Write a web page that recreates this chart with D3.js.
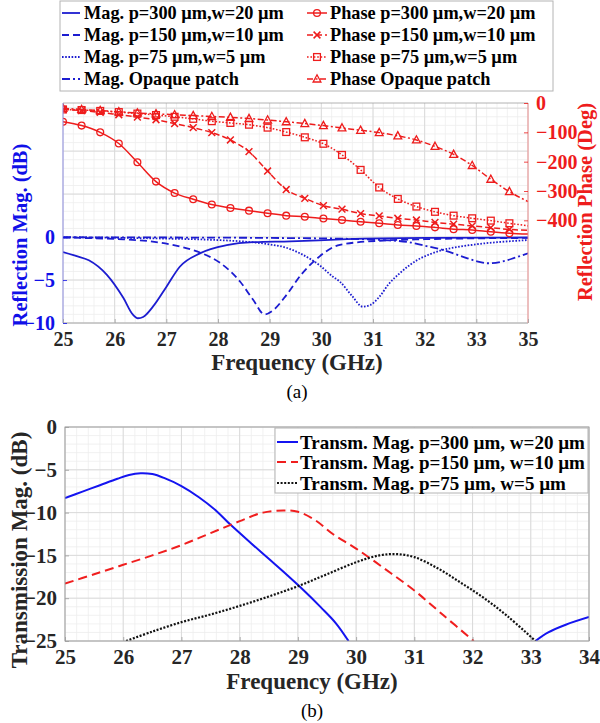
<!DOCTYPE html>
<html>
<head>
<meta charset="utf-8">
<script src="https://cdn.jsdelivr.net/npm/d3@7"></script>
<style>
  body { margin: 0; background: #fff; }
  text { font-family: "Liberation Serif", "Times New Roman", serif; }
</style>
</head>
<body>
<svg id="chart" width="600" height="723"></svg>
<script>
// ---------- (a) reflection: magnitude (left axis) ----------
const mag300Freq = [25, 25.25, 25.5, 25.85, 26.17, 26.35, 26.45, 26.55, 26.74, 27.0, 27.26, 27.65, 28.17, 28.68, 29.4, 30.5, 32, 34];
const mag300 = [-1.75, -2.2, -2.7, -4.4, -7.1, -9.0, -9.45, -9.3, -8.1, -5.8, -3.45, -1.9, -0.95, -0.6, -0.5, -0.25, -0.1, -0.05];

const mag150Freq = [25, 25.5, 26.17, 26.7, 27.26, 27.65, 28.04, 28.43, 28.68, 28.9, 29.07, 29.33, 29.62, 29.88, 30.36, 31.2, 32, 33, 34];
const mag150 = [-0.05, -0.12, -0.27, -0.5, -1.1, -1.8, -3.0, -5.2, -7.3, -9.0, -8.5, -6.7, -4.3, -2.7, -0.9, -0.4, -0.25, -0.15, -0.1];

const mag75Freq = [25, 26, 27, 28, 28.56, 29, 29.3, 29.59, 29.8, 29.97, 30.2, 30.36, 30.6, 30.8, 30.95, 31.13, 31.3, 31.52, 31.7, 31.85, 32.1, 32.35, 32.7, 33.13, 33.5, 34];
const mag75 = [-0.03, -0.08, -0.18, -0.35, -0.55, -0.85, -1.2, -1.9, -2.6, -3.3, -4.5, -5.2, -6.9, -8.1, -7.9, -6.9, -5.5, -4.2, -3.3, -2.7, -2.0, -1.5, -1.1, -0.75, -0.55, -0.35];

const magOpaqueFreq = [25, 27, 29, 30.5, 31.2, 31.7, 32.0, 32.35, 32.7, 33.0, 33.23, 33.5, 33.75, 34];
const magOpaque = [-0.02, -0.05, -0.1, -0.2, -0.35, -0.6, -1.0, -1.5, -2.2, -2.8, -3.05, -2.85, -2.4, -1.9];

// ---------- (a) reflection: phase (right axis), sampled at marker frequencies ----------
const phaseFreq = [25, 25.36, 25.72, 26.08, 26.44, 26.8, 27.16, 27.52, 27.88, 28.24, 28.6, 28.96, 29.32, 29.68, 30.04, 30.4, 30.76, 31.12, 31.48, 31.84, 32.2, 32.56, 32.92, 33.28, 33.64, 34];
const phase300 = [-64, -77, -100, -138, -202, -268, -307, -328, -346, -358, -367, -376, -384, -388, -394, -399, -405, -410, -416, -419, -424, -430, -433, -439, -444, -447];
const phase150 = [-22, -26, -32, -40, -48, -57, -70, -84, -101, -126, -166, -232, -295, -325, -350, -362, -377, -385, -393, -399, -407, -413, -419, -425, -431, -434];
const phase75 = [-22, -24, -27, -31, -36, -41, -47, -54, -62, -68, -74, -84, -99, -117, -139, -177, -228, -288, -327, -353, -371, -384, -393, -401, -410, -419];
const phaseOpaque = [-18, -22, -26, -30, -34, -37, -40, -43, -46, -49, -53, -58, -64, -70, -77, -85, -93, -101, -112, -126, -148, -175, -213, -260, -302, -336];

const ticksFreqA = [25, 26, 27, 28, 29, 30, 31, 32, 33, 34];
const tickLabelsA = ["25", "26", "27", "28", "29", "30", "31", "32", "33", "35"];
const ticksMag = [-10, -5, 0];
const ticksPhase = [-400, -300, -200, -100, 0];

const legendA = [
  "Mag. p=300 \u00b5m,w=20 \u00b5m", "Mag. p=150 \u00b5m,w=10 \u00b5m", "Mag. p=75 \u00b5m,w=5 \u00b5m", "Mag. Opaque patch",
  "Phase p=300 \u00b5m,w=20 \u00b5m", "Phase p=150 \u00b5m,w=10 \u00b5m", "Phase p=75 \u00b5m,w=5 \u00b5m", "Phase Opaque patch"
];

// ---------- (b) transmission magnitude ----------
const trans300Freq = [25, 25.3, 25.6, 25.9, 26.1, 26.3, 26.5, 26.7, 27.0, 27.3, 27.6, 27.84, 28.2, 28.5, 28.8, 29.04, 29.4, 29.65, 29.87, 30.5, 32.5, 33.08, 33.3, 33.6, 34];
const trans300 = [-8.3, -7.55, -6.8, -6.05, -5.6, -5.4, -5.5, -5.95, -6.9, -8.2, -9.8, -11.4, -13.6, -15.4, -17.2, -18.7, -21.1, -22.9, -25, null, null, -25, -24.0, -23.1, -22.2];

const trans150Freq = [25, 25.5, 26, 26.5, 27, 27.5, 28, 28.4, 28.75, 29.0, 29.3, 29.6, 30.0, 30.5, 31.0, 31.5, 32.02];
const trans150 = [-18.3, -17.2, -16.1, -15.0, -13.8, -12.4, -11.0, -10.0, -9.75, -9.9, -10.9, -12.5, -14.2, -16.6, -19.1, -22.0, -25];

const trans75Freq = [26.05, 26.5, 27, 27.5, 28, 28.5, 29, 29.5, 30, 30.4, 30.7, 31.0, 31.4, 31.8, 32.2, 32.6, 33.08];
const trans75 = [-25, -23.9, -22.8, -21.9, -20.9, -19.8, -18.6, -17.2, -15.8, -15.0, -14.85, -15.2, -16.5, -18.2, -20.0, -22.1, -25];

const ticksFreqB = [25, 26, 27, 28, 29, 30, 31, 32, 33, 34];
const ticksTrans = [-25, -20, -15, -10, -5, 0];
const legendB = [
  "Transm. Mag. p=300 \u00b5m, w=20 \u00b5m",
  "Transm. Mag. p=150 \u00b5m, w=10 \u00b5m",
  "Transm. Mag. p=75 \u00b5m, w=5 \u00b5m"
];

// ---------- styling ----------
const BLUE = "#1c1cd0";
const BLUE_TXT = "#1010e8";
const RED = "#ee1c1c";
const GRID_MAJOR = "#d8d8d8";
const GRID_MINOR = "#ededed";
const FONT = "'Liberation Serif', 'Times New Roman', serif";

const svg = d3.select("#chart");
const zip = (xs, ys) => xs.map((x, i) => ({ x, y: ys[i] }));

function drawGrid(g, xs, ys, x0, x1, y0, y1, xMinor, yMinor, xMajor, yMajor) {
  const grid = g.append("g");
  grid.selectAll(".vmin").data(xMinor).join("line")
    .attr("x1", d => xs(d)).attr("x2", d => xs(d)).attr("y1", y0).attr("y2", y1)
    .attr("stroke", GRID_MINOR).attr("stroke-width", 0.8);
  grid.selectAll(".hmin").data(yMinor).join("line")
    .attr("y1", d => ys(d)).attr("y2", d => ys(d)).attr("x1", x0).attr("x2", x1)
    .attr("stroke", GRID_MINOR).attr("stroke-width", 0.8);
  grid.selectAll(".vmaj").data(xMajor).join("line")
    .attr("x1", d => xs(d)).attr("x2", d => xs(d)).attr("y1", y0).attr("y2", y1)
    .attr("stroke", GRID_MAJOR).attr("stroke-width", 0.9);
  grid.selectAll(".hmaj").data(yMajor).join("line")
    .attr("y1", d => ys(d)).attr("y2", d => ys(d)).attr("x1", x0).attr("x2", x1)
    .attr("stroke", GRID_MAJOR).attr("stroke-width", 0.9);
}

function styleAxis(g, color, size) {
  g.select(".domain").remove();
  g.selectAll(".tick line").attr("stroke", color).attr("stroke-width", 0.8);
  g.selectAll(".tick text").attr("fill", color).attr("font-size", size)
    .attr("font-weight", "bold").attr("font-family", FONT);
}

// marker shapes for phase curves
function drawMarker(g, kind, cx, cy, color) {
  const s = 3.4;
  if (kind === "circle") {
    g.append("circle").attr("cx", cx).attr("cy", cy).attr("r", s)
      .attr("fill", "none").attr("stroke", color).attr("stroke-width", 1.3);
  } else if (kind === "cross") {
    g.append("path").attr("d", `M${cx - s},${cy - s}L${cx + s},${cy + s}M${cx - s},${cy + s}L${cx + s},${cy - s}`)
      .attr("stroke", color).attr("stroke-width", 1.5).attr("fill", "none");
  } else if (kind === "square") {
    g.append("rect").attr("x", cx - s).attr("y", cy - s).attr("width", 2 * s).attr("height", 2 * s)
      .attr("fill", "none").attr("stroke", color).attr("stroke-width", 1.3);
  } else if (kind === "triangle") {
    g.append("path").attr("d", `M${cx},${cy - s - 0.8}L${cx + s + 0.5},${cy + s - 0.4}L${cx - s - 0.5},${cy + s - 0.4}Z`)
      .attr("fill", "none").attr("stroke", color).attr("stroke-width", 1.3);
  }
}

// ================= Panel (a) =================
const A = { left: 63, right: 528, top: 103, bottom: 323 };
const xA = d3.scaleLinear().domain([25, 34]).range([A.left, A.right]);
const yMag = d3.scaleLinear().domain([-10, 15.6]).range([A.bottom, A.top]);
const yPh = d3.scaleLinear().domain([-750, 0]).range([A.bottom, A.top]);

const gA = svg.append("g");
drawGrid(gA, xA, yMag, A.left, A.right, A.top, A.bottom,
  xA.ticks(45), d3.range(-10, 16, 1), ticksFreqA, [-10, -5, 0, 5, 10, 15]);

svg.append("clipPath").attr("id", "clipA").append("rect")
  .attr("x", A.left).attr("y", A.top).attr("width", A.right - A.left).attr("height", A.bottom - A.top);

const plotA = gA.append("g").attr("clip-path", "url(#clipA)");

const magLine = d3.line().x(d => xA(d.x)).y(d => yMag(d.y)).curve(d3.curveMonotoneX);
const magSeries = [
  { f: mag300Freq, v: mag300, dash: null },
  { f: mag150Freq, v: mag150, dash: "7,4" },
  { f: mag75Freq, v: mag75, dash: "1.6,1.6" },
  { f: magOpaqueFreq, v: magOpaque, dash: "8,3,2,3" }
];
magSeries.forEach(s => {
  plotA.append("path").datum(zip(s.f, s.v)).attr("d", magLine)
    .attr("fill", "none").attr("stroke", BLUE).attr("stroke-width", 1.8)
    .attr("stroke-dasharray", s.dash);
});

const phLine = d3.line().x(d => xA(d.x)).y(d => yPh(d.y)).curve(d3.curveMonotoneX);
const phSeries = [
  { v: phase300, dash: null, mk: "circle" },
  { v: phase150, dash: "6,3", mk: "cross" },
  { v: phase75, dash: "1.6,1.8", mk: "square" },
  { v: phaseOpaque, dash: "6,2.5,2,2.5", mk: "triangle" }
];
phSeries.forEach(s => {
  const pts = zip(phaseFreq, s.v);
  plotA.append("path").datum(pts).attr("d", phLine)
    .attr("fill", "none").attr("stroke", RED).attr("stroke-width", 1.5)
    .attr("stroke-dasharray", s.dash);
  const mg = plotA.append("g");
  pts.slice(0, pts.length - 1).forEach(p => drawMarker(mg, s.mk, xA(p.x), yPh(p.y), RED));
});

// frame (a)
gA.append("line").attr("x1", A.left).attr("x2", A.right).attr("y1", A.top).attr("y2", A.top).attr("stroke", "#a0a0a0").attr("stroke-width", 0.8);
gA.append("line").attr("x1", A.left).attr("x2", A.right).attr("y1", A.bottom).attr("y2", A.bottom).attr("stroke", "#a0a0a0").attr("stroke-width", 0.8);
gA.append("line").attr("x1", A.left).attr("x2", A.left).attr("y1", A.top).attr("y2", A.bottom).attr("stroke", "#8c8ce6").attr("stroke-width", 0.9);
gA.append("line").attr("x1", A.right).attr("x2", A.right).attr("y1", A.top).attr("y2", A.bottom).attr("stroke", "#f08a8a").attr("stroke-width", 0.9);

// axes (a)
const axXA = gA.append("g").attr("transform", `translate(0,${A.bottom})`)
  .call(d3.axisBottom(xA).tickValues(ticksFreqA).tickFormat((d, i) => tickLabelsA[i]).tickSizeInner(-4).tickPadding(9));
styleAxis(axXA, "#262626", 20);
axXA.selectAll(".tick line").attr("stroke", "#a0a0a0");

const axYMag = gA.append("g").attr("transform", `translate(${A.left},0)`)
  .call(d3.axisLeft(yMag).tickValues(ticksMag).tickFormat(d3.format("d")).tickSizeInner(-4).tickPadding(8));
styleAxis(axYMag, BLUE_TXT, 20);

const axYPh = gA.append("g").attr("transform", `translate(${A.right},0)`)
  .call(d3.axisRight(yPh).tickValues(ticksPhase).tickFormat(d3.format("d")).tickSizeInner(-4).tickPadding(8));
styleAxis(axYPh, RED, 20);

gA.append("text").attr("transform", `translate(27,${235}) rotate(-90)`)
  .attr("text-anchor", "middle").attr("font-size", 20.5).attr("font-weight", "bold").attr("fill", BLUE_TXT)
  .text("Reflection Mag. (dB)");
gA.append("text").attr("transform", `translate(592,${202}) rotate(-90)`)
  .attr("text-anchor", "middle").attr("font-size", 20.5).attr("font-weight", "bold").attr("fill", RED)
  .text("Reflection Phase (Deg)");
gA.append("text").attr("x", 297).attr("y", 370)
  .attr("text-anchor", "middle").attr("font-size", 23).attr("font-weight", "bold").attr("fill", "#262626")
  .text("Frequency (GHz)");
gA.append("text").attr("x", 297).attr("y", 398)
  .attr("text-anchor", "middle").attr("font-size", 19).attr("fill", "#000")
  .text("(a)");

// legend (a)
const legA = gA.append("g");
legA.append("rect").attr("x", 60).attr("y", 1).attr("width", 493).attr("height", 90)
  .attr("fill", "#fff").attr("stroke", "#b4b4b4").attr("stroke-width", 1);
const rowY = [13, 35, 57, 79];
magSeries.forEach((s, i) => {
  legA.append("line").attr("x1", 62).attr("x2", 80).attr("y1", rowY[i]).attr("y2", rowY[i])
    .attr("stroke", BLUE).attr("stroke-width", 1.8).attr("stroke-dasharray", s.dash);
  legA.append("text").attr("x", 84).attr("y", rowY[i]).attr("dominant-baseline", "central")
    .attr("font-size", 18.3).attr("font-weight", "bold").attr("fill", "#000").text(legendA[i]);
});
phSeries.forEach((s, i) => {
  legA.append("line").attr("x1", 307).attr("x2", 327).attr("y1", rowY[i]).attr("y2", rowY[i])
    .attr("stroke", RED).attr("stroke-width", 1.5).attr("stroke-dasharray", s.dash);
  drawMarker(legA, s.mk, 317, rowY[i], RED);
  legA.append("text").attr("x", 330).attr("y", rowY[i]).attr("dominant-baseline", "central")
    .attr("font-size", 18.3).attr("font-weight", "bold").attr("fill", "#000").text(legendA[i + 4]);
});

// ================= Panel (b) =================
const B = { left: 65, right: 589, top: 427, bottom: 641 };
const xB = d3.scaleLinear().domain([25, 34]).range([B.left, B.right]);
const yB = d3.scaleLinear().domain([-25, 0]).range([B.bottom, B.top]);

const gB = svg.append("g");
drawGrid(gB, xB, yB, B.left, B.right, B.top, B.bottom,
  xB.ticks(45), d3.range(-25, 1, 1), ticksFreqB, ticksTrans);

svg.append("clipPath").attr("id", "clipB").append("rect")
  .attr("x", B.left).attr("y", B.top).attr("width", B.right - B.left).attr("height", B.bottom - B.top);
const plotB = gB.append("g").attr("clip-path", "url(#clipB)");

const tLine = d3.line().defined(d => d.y !== null).x(d => xB(d.x)).y(d => yB(d.y)).curve(d3.curveCatmullRom.alpha(0.5));
const transSeries = [
  { f: trans300Freq, v: trans300, color: "#1414f0", dash: null, w: 2 },
  { f: trans150Freq, v: trans150, color: "#f01e1e", dash: "9,5", w: 2 },
  { f: trans75Freq, v: trans75, color: "#111", dash: "2,1.6", w: 2.2 }
];
transSeries.forEach(s => {
  plotB.append("path").datum(zip(s.f, s.v)).attr("d", tLine)
    .attr("fill", "none").attr("stroke", s.color).attr("stroke-width", s.w)
    .attr("stroke-dasharray", s.dash);
});

// frame (b)
gB.append("rect").attr("x", B.left).attr("y", B.top).attr("width", B.right - B.left).attr("height", B.bottom - B.top)
  .attr("fill", "none").attr("stroke", "#9a9a9a").attr("stroke-width", 0.9);

const axXB = gB.append("g").attr("transform", `translate(0,${B.bottom})`)
  .call(d3.axisBottom(xB).tickValues(ticksFreqB).tickFormat(d3.format("d")).tickSizeInner(-4).tickPadding(8));
styleAxis(axXB, "#262626", 21);
axXB.selectAll(".tick line").attr("stroke", "#9a9a9a");

const axYB = gB.append("g").attr("transform", `translate(${B.left},0)`)
  .call(d3.axisLeft(yB).tickValues(ticksTrans).tickFormat(d3.format("d")).tickSizeInner(-4).tickPadding(8));
styleAxis(axYB, "#262626", 21);
axYB.selectAll(".tick line").attr("stroke", "#9a9a9a");

gB.append("text").attr("transform", `translate(27,${550}) rotate(-90)`)
  .attr("text-anchor", "middle").attr("font-size", 23).attr("font-weight", "bold").attr("fill", "#262626")
  .text("Transmission Mag. (dB)");
gB.append("text").attr("x", 312).attr("y", 689)
  .attr("text-anchor", "middle").attr("font-size", 23).attr("font-weight", "bold").attr("fill", "#262626")
  .text("Frequency (GHz)");
gB.append("text").attr("x", 312).attr("y", 717)
  .attr("text-anchor", "middle").attr("font-size", 19).attr("fill", "#000")
  .text("(b)");

// legend (b)
const legB = gB.append("g");
legB.append("rect").attr("x", 275).attr("y", 428).attr("width", 313).attr("height", 65)
  .attr("fill", "#fff").attr("stroke", "#b4b4b4").attr("stroke-width", 1);
const rowYB = [442, 462, 483];
transSeries.forEach((s, i) => {
  legB.append("line").attr("x1", 277).attr("x2", 298).attr("y1", rowYB[i]).attr("y2", rowYB[i])
    .attr("stroke", s.color).attr("stroke-width", s.w).attr("stroke-dasharray", s.dash);
  legB.append("text").attr("x", 300).attr("y", rowYB[i]).attr("dominant-baseline", "central")
    .attr("font-size", 19).attr("font-weight", "bold").attr("fill", "#000").text(legendB[i]);
});
</script>
</body>
</html>
